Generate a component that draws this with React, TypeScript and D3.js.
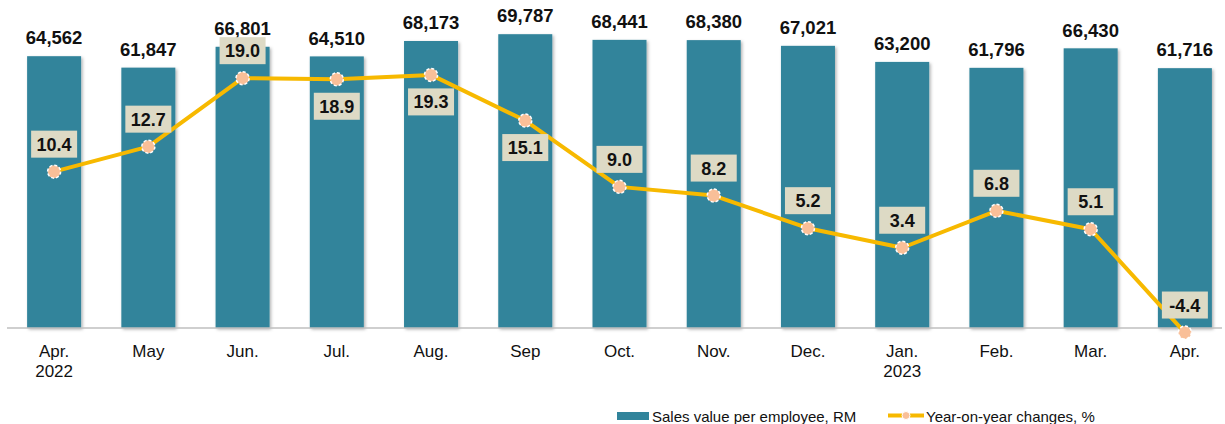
import React from "react";
import * as d3 from "d3";

const months = ["Apr.", "May", "Jun.", "Jul.", "Aug.", "Sep", "Oct.", "Nov.", "Dec.", "Jan.", "Feb.", "Mar.", "Apr."];
const years = ["2022", "", "", "", "", "", "", "", "", "2023", "", "", ""];
const salesValues = [64562, 61847, 66801, 64510, 68173, 69787, 68441, 68380, 67021, 63200, 61796, 66430, 61716];
const yoyValues = [10.4, 12.7, 19.0, 18.9, 19.3, 15.1, 9.0, 8.2, 5.2, 3.4, 6.8, 5.1, -4.4];
const yoyLabelPos = ["above", "above", "above", "below", "below", "below", "above", "above", "above", "above", "above", "above", "above"];
const legendLabels = ["Sales value per employee, RM", "Year-on-year changes, %"];

const W = 1225;
const H = 424;
const BASE = 328;
const FONT = "'Liberation Sans', Arial, sans-serif";
const BAR_COLOR = "#31849b";
const LINE_COLOR = "#f7b900";
const MARKER_FILL = "#f9bf98";
const BOX_FILL = "#dddac5";

export default function App() {
  const idx = months.map((_, i) => String(i));
  const x = d3.scalePoint<string>().domain(idx).range([7, 1232]).padding(0.5);
  const step = x.step();
  const barW = step * 0.573;
  const y = d3.scaleLinear().domain([0, 70000]).range([BASE, BASE - 294.7]);
  const y2 = d3.scaleLinear().domain([0, 20]).range([284.7, 284.7 - 217.4]);
  const line = d3
    .line<number>()
    .x((_, i) => x(String(i)) as number)
    .y((d) => y2(d));
  const fmt = d3.format(",");
  const fmt1 = (v: number) => v.toFixed(1);

  return (
    <svg width={W} height={H} style={{ position: "absolute", left: 0, top: 0, background: "#fff" }} fontFamily={FONT}>
      <defs>
        <filter id="shadow" x="-20%" y="-10%" width="140%" height="120%">
          <feDropShadow dx="1.5" dy="1.5" stdDeviation="1.5" floodColor="#000" floodOpacity="0.3" />
        </filter>
      </defs>
      {salesValues.map((v, i) => {
        const cx = x(String(i)) as number;
        return (
          <g key={"b" + i}>
            <rect x={cx - barW / 2} y={y(v)} width={barW} height={BASE - y(v)} fill={BAR_COLOR} filter="url(#shadow)" />
            <text x={cx} y={y(v) - 11.7} textAnchor="middle" fontSize={18.5} fontWeight="bold" fill="#111">
              {fmt(v)}
            </text>
          </g>
        );
      })}
      <line x1={7} x2={1222} y1={BASE} y2={BASE} stroke="#bfbfbf" strokeWidth={1.5} />
      {months.map((m, i) => {
        const cx = x(String(i)) as number;
        return (
          <text key={"m" + i} x={cx} textAnchor="middle" fontSize={17} fill="#111">
            <tspan x={cx} y={356.5}>{m}</tspan>
            {years[i] && <tspan x={cx} y={376.5}>{years[i]}</tspan>}
          </text>
        );
      })}
      <path d={line(yoyValues) || ""} fill="none" stroke={LINE_COLOR} strokeWidth={4} strokeLinejoin="round" />
      {yoyValues.map((v, i) => {
        const cx = x(String(i)) as number;
        const cy = y2(v);
        return (
          <circle key={"c" + i} cx={cx} cy={cy} r={6.5} fill={MARKER_FILL} stroke="#fff" strokeWidth={1.5} strokeDasharray="3,2" />
        );
      })}
      {yoyValues.map((v, i) => {
        const cx = x(String(i)) as number;
        const cy = y2(v) + (yoyLabelPos[i] === "above" ? -27.5 : 27);
        const bw = 46;
        const bh = 27;
        return (
          <g key={"l" + i}>
            <rect x={cx - bw / 2} y={cy - bh / 2} width={bw} height={bh} fill={BOX_FILL} />
            <text x={cx} y={cy + 6.5} textAnchor="middle" fontSize={18} fontWeight="bold" fill="#111">
              {fmt1(v)}
            </text>
          </g>
        );
      })}
      <g>
        <rect x={617} y={412} width={32} height={8} fill={BAR_COLOR} />
        <text x={652} y={422} fontSize={15} fill="#111">{legendLabels[0]}</text>
        <line x1={888} x2={924} y1={415.5} y2={415.5} stroke={LINE_COLOR} strokeWidth={4} />
        <circle cx={906} cy={415.5} r={4} fill={MARKER_FILL} stroke="#fff" strokeWidth={1} />
        <text x={926} y={422} fontSize={15} fill="#111">{legendLabels[1]}</text>
      </g>
    </svg>
  );
}
